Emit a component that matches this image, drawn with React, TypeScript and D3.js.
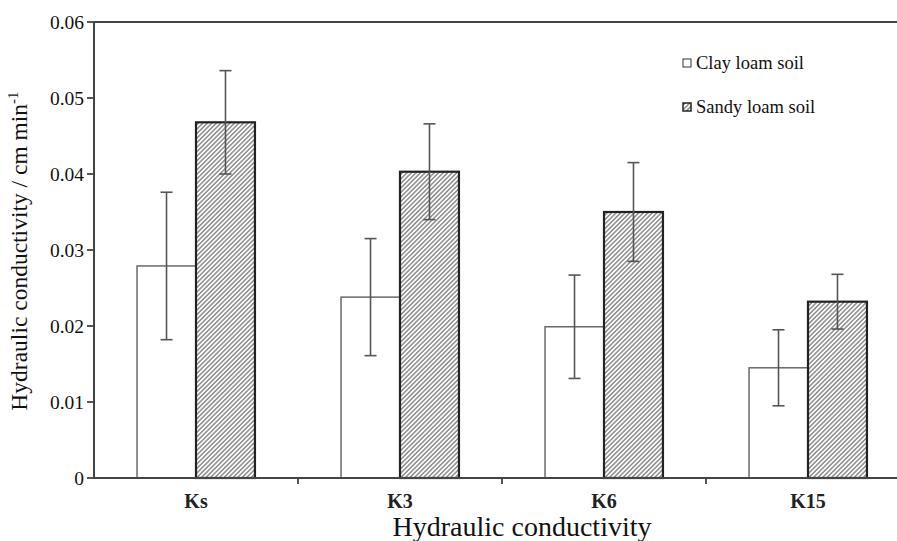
import React, { useEffect, useRef } from "react";
import * as d3 from "d3";

const categories = ["Ks", "K3", "K6", "K15"];
const seriesNames = ["Clay loam soil", "Sandy loam soil"];
const clayValues = [0.0279, 0.0238, 0.0199, 0.0145];
const clayErrors = [0.0097, 0.0077, 0.0068, 0.005];
const sandyValues = [0.0468, 0.0403, 0.035, 0.0232];
const sandyErrors = [0.0068, 0.0063, 0.0065, 0.0036];
const yTicks = [0, 0.01, 0.02, 0.03, 0.04, 0.05, 0.06];

const W = 897;
const H = 541;

export default function App() {
  const ref = useRef<SVGSVGElement>(null);

  useEffect(() => {
    const svg = d3.select(ref.current);
    svg.selectAll("*").remove();

    const font = "'Liberation Serif', 'Times New Roman', serif";
    const left = 94, right = 910, top = 22, bottom = 478;

    const x0 = d3.scaleBand().domain(categories).range([left, right]).paddingInner(0).paddingOuter(0);
    const x1 = d3.scaleBand().domain(seriesNames).range([0, x0.bandwidth()]).paddingInner(0).paddingOuter(0.73);
    const y = d3.scaleLinear().domain([0, 0.06]).range([bottom, top]);

    const defs = svg.append("defs");
    const pat = defs.append("pattern")
      .attr("id", "hatch")
      .attr("patternUnits", "userSpaceOnUse")
      .attr("width", 3.2)
      .attr("height", 10)
      .attr("patternTransform", "rotate(45)");
    pat.append("rect").attr("width", 3.2).attr("height", 10).attr("fill", "#fff");
    pat.append("line")
      .attr("x1", 0.8).attr("y1", 0).attr("x2", 0.8).attr("y2", 10)
      .attr("stroke", "#7a7a7a").attr("stroke-width", 1.3);

    const rows = categories.map((c, i) => ({
      cat: c,
      bars: [
        { s: seriesNames[0], v: clayValues[i], e: clayErrors[i] },
        { s: seriesNames[1], v: sandyValues[i], e: sandyErrors[i] },
      ],
    }));

    const g = svg.append("g");
    const groups = g.selectAll("g.grp").data(rows).enter().append("g")
      .attr("transform", d => `translate(${x0(d.cat)},0)`);

    groups.selectAll("rect").data(d => d.bars).enter().append("rect")
      .attr("x", d => x1(d.s)!)
      .attr("y", d => y(d.v))
      .attr("width", x1.bandwidth())
      .attr("height", d => bottom - y(d.v))
      .attr("fill", (d, i) => (i === 0 ? "#fff" : "url(#hatch)"))
      .attr("stroke", (d, i) => (i === 0 ? "#6a6a6a" : "#222"))
      .attr("stroke-width", (d, i) => (i === 0 ? 1.5 : 2.2));

    // error bars
    const eb = groups.selectAll("g.eb").data(d => d.bars).enter().append("g")
      .attr("stroke", "#555").attr("stroke-width", 1.6);
    const cx = (d: any) => x1(d.s)! + x1.bandwidth() / 2;
    eb.append("line")
      .attr("x1", cx).attr("x2", cx)
      .attr("y1", d => y(d.v + d.e)).attr("y2", d => y(d.v - d.e));
    [1, -1].forEach(sgn => {
      eb.append("line")
        .attr("x1", d => cx(d) - 6).attr("x2", d => cx(d) + 6)
        .attr("y1", d => y(d.v + sgn * d.e)).attr("y2", d => y(d.v + sgn * d.e));
    });

    // axes
    const axisColor = "#444";
    svg.append("line").attr("x1", left).attr("x2", right).attr("y1", bottom).attr("y2", bottom)
      .attr("stroke", axisColor).attr("stroke-width", 2);
    svg.append("line").attr("x1", left).attr("x2", left).attr("y1", top).attr("y2", bottom)
      .attr("stroke", axisColor).attr("stroke-width", 2);
    svg.append("line").attr("x1", left).attr("x2", right).attr("y1", top).attr("y2", top)
      .attr("stroke", axisColor).attr("stroke-width", 2);

    // y ticks
    svg.selectAll("line.yt").data(yTicks).enter().append("line")
      .attr("x1", left - 7).attr("x2", left).attr("y1", d => y(d)).attr("y2", d => y(d))
      .attr("stroke", axisColor).attr("stroke-width", 1.8);
    svg.selectAll("text.yl").data(yTicks).enter().append("text")
      .attr("x", left - 10).attr("y", d => y(d)).attr("dy", "0.34em")
      .attr("text-anchor", "end").attr("font-family", font).attr("font-size", 19.5)
      .attr("fill", "#111")
      .text(d => (d === 0 ? "0" : d3.format(".2f")(d)));

    // x ticks at band boundaries
    const bounds = categories.slice(1).map(c => x0(c)!);
    svg.selectAll("line.xt").data(bounds).enter().append("line")
      .attr("x1", d => d).attr("x2", d => d).attr("y1", bottom).attr("y2", bottom + 6)
      .attr("stroke", axisColor).attr("stroke-width", 1.8);
    svg.selectAll("text.xl").data(categories).enter().append("text")
      .attr("x", d => x0(d)! + x0.bandwidth() / 2).attr("y", 508)
      .attr("text-anchor", "middle").attr("font-family", font).attr("font-size", 20)
      .attr("font-weight", "bold").attr("fill", "#222")
      .text(d => d);

    // axis titles
    svg.append("text").attr("x", 522).attr("y", 536)
      .attr("text-anchor", "middle").attr("font-family", font).attr("font-size", 28)
      .attr("fill", "#111").text("Hydraulic conductivity");

    const yt = svg.append("text")
      .attr("transform", `translate(27,${251}) rotate(-90)`)
      .attr("text-anchor", "middle").attr("font-family", font).attr("font-size", 23.5)
      .attr("fill", "#111");
    yt.append("tspan").text("Hydraulic conductivity / cm min");
    yt.append("tspan").attr("dy", -9).attr("font-size", 15).text("-1");

    // legend
    const lg = svg.append("g").attr("transform", "translate(683,0)");
    const ly = [63, 107];
    seriesNames.forEach((s, i) => {
      lg.append("rect").attr("x", 0).attr("y", ly[i] - 4).attr("width", 8).attr("height", 8)
        .attr("fill", i === 0 ? "#fff" : "url(#hatch)")
        .attr("stroke", i === 0 ? "#333" : "#222").attr("stroke-width", i === 0 ? 1 : 1.5);
      lg.append("text").attr("x", 13).attr("y", ly[i]).attr("dy", "0.35em")
        .attr("font-family", font).attr("font-size", 18.5).attr("fill", "#111")
        .text(i === 0 ? "Clay loam soil" : "Sandy loam soil");
    });
  }, []);

  return (
    <div style={{ position: "absolute", left: 0, top: 0, width: W, height: H, background: "#fff" }}>
      <svg ref={ref} width={W} height={H} style={{ display: "block" }} />
    </div>
  );
}
